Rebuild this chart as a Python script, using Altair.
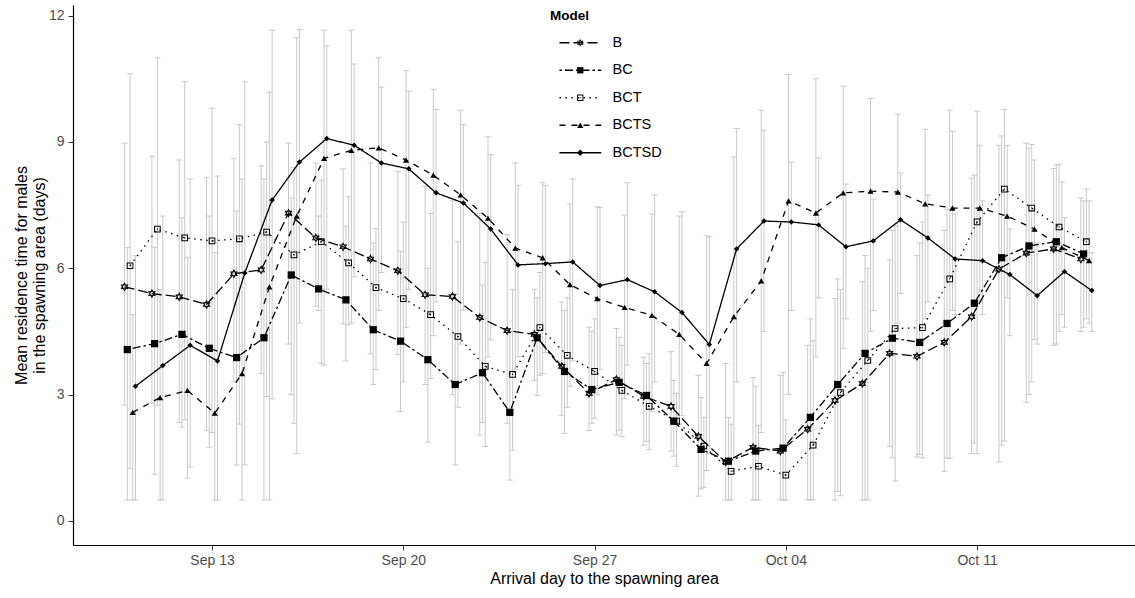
import altair as alt
import pandas as pd

models = ["B", "BC", "BCT", "BCTS", "BCTSD"]
# arrival day index: 0 = Sep 10 ... 35 = Oct 15
days = list(range(36))
tick_days = [3, 10, 17, 24, 31]
tick_labels = ["Sep 13", "Sep 20", "Sep 27", "Oct 04", "Oct 11"]

b_mean = [5.56, 5.40, 5.32, 5.14, 5.87, 5.96, 7.31, 6.72, 6.51, 6.22, 5.94, 5.37, 5.33, 4.83, 4.52, 4.43, 3.67, 3.03,
          3.36, 2.96, 2.72, 2.01, 1.40, 1.75, 1.66, 2.18, 2.86, 3.26, 3.98, 3.91, 4.24, 4.85, 5.98, 6.36, 6.46, 6.22]
b_lo = [2.75, 2.80, 2.34, 2.15, 3.30, 3.50, 4.20, 5.10, 4.68, 3.97, 3.95, 3.24, 3.00, 2.04, 2.32, 3.34, 2.51, 2.15,
        2.04, 1.80, 1.66, 0.59, 0.50, 0.50, 0.50, 0.50, 0.50, 0.50, 1.77, 1.52, 1.18, 1.60, 1.40, 2.82, 4.17, 4.50]
b_hi = [8.97, 8.66, 8.57, 8.15, 8.60, 8.43, 8.97, 8.50, 8.36, 8.50, 8.30, 7.95, 7.60, 7.30, 6.80, 5.50, 5.20, 4.60,
        4.57, 3.88, 4.02, 3.46, 3.74, 3.41, 3.46, 4.17, 5.28, 5.68, 6.20, 6.30, 6.90, 8.14, 8.92, 8.97, 8.37, 7.67]

bc_mean = [4.07, 4.21, 4.43, 4.10, 3.88, 4.35, 5.84, 5.51, 5.25, 4.54, 4.27, 3.83, 3.24, 3.52, 2.58, 4.35, 3.55, 3.12,
           3.29, 2.98, 2.37, 1.70, 1.42, 1.66, 1.73, 2.46, 3.24, 3.98, 4.34, 4.24, 4.69, 5.17, 6.25, 6.53, 6.63, 6.34]
bc_lo = [0.50, 1.11, 2.23, 1.75, 1.33, 0.50, 3.00, 5.00, 3.80, 3.24, 2.60, 1.87, 1.33, 2.34, 0.97, 2.98, 2.08, 2.32,
         2.15, 1.89, 1.54, 0.76, 0.50, 0.50, 0.50, 0.50, 0.70, 0.50, 1.50, 1.58, 1.49, 1.85, 1.80, 3.00, 4.20, 4.60]
bc_hi = [6.49, 6.50, 7.20, 7.24, 7.36, 8.12, 7.67, 7.24, 7.00, 6.60, 6.40, 6.00, 5.40, 5.60, 4.50, 5.30, 5.00, 4.50,
         4.36, 3.74, 3.34, 2.93, 2.46, 3.20, 3.53, 4.80, 5.75, 6.30, 6.90, 6.60, 7.40, 8.21, 9.14, 8.85, 8.45, 7.60]

bct_mean = [6.06, 6.93, 6.72, 6.65, 6.70, 6.86, 6.32, 6.63, 6.13, 5.54, 5.28, 4.90, 4.38, 3.67, 3.48, 4.59, 3.93, 3.55,
            3.10, 2.72, 2.37, 1.78, 1.18, 1.30, 1.09, 1.80, 3.05, 3.81, 4.57, 4.59, 5.75, 7.10, 7.88, 7.43, 6.98, 6.63]
bct_lo = [1.25, 2.75, 2.40, 2.10, 2.30, 2.95, 2.32, 3.74, 4.66, 3.60, 3.30, 3.38, 2.70, 1.77, 1.68, 3.46, 2.70, 2.44,
          2.00, 1.70, 1.30, 0.80, 0.50, 0.50, 0.50, 0.50, 0.60, 0.50, 0.95, 1.50, 1.49, 1.60, 1.90, 3.30, 4.50, 4.80]
bct_hi = [10.62, 11.00, 10.43, 9.80, 9.41, 9.00, 8.40, 8.09, 7.70, 6.94, 7.10, 7.30, 6.63, 6.14, 5.50, 5.90, 5.30, 4.80,
          4.17, 3.97, 3.03, 2.46, 2.30, 2.27, 2.40, 4.28, 5.50, 6.00, 7.00, 7.10, 9.75, 9.73, 9.77, 8.94, 8.47, 7.88]

bcts_mean = [2.58, 2.93, 3.10, 2.56, 3.50, 5.56, 7.24, 8.61, 8.80, 8.86, 8.57, 8.21, 7.74, 7.19, 6.48, 6.25, 5.61, 5.28,
             5.07, 4.88, 4.43, 3.74, 4.85, 5.70, 7.60, 7.31, 7.79, 7.83, 7.81, 7.53, 7.43, 7.43, 7.24, 6.93, 6.49, 6.18]
bcts_lo = [0.50, 0.50, 1.02, 0.50, 0.50, 0.50, 1.60, 3.70, 4.70, 5.00, 4.60, 4.40, 4.20, 3.90, 3.60, 3.50, 3.20, 3.00,
           2.90, 2.60, 2.30, 1.20, 1.50, 2.10, 3.00, 3.90, 4.10, 4.50, 4.70, 4.80, 5.00, 5.20, 5.30, 4.31, 4.90, 4.70]
bcts_hi = [4.90, 5.50, 6.26, 6.37, 8.12, 10.18, 11.48, 11.65, 11.65, 11.00, 10.69, 10.25, 9.75, 9.12, 8.50, 8.03, 7.53,
           7.46, 7.26, 7.29, 7.24, 6.77, 8.64, 9.75, 10.60, 10.50, 10.32, 10.03, 9.66, 9.30, 9.25, 8.92, 8.92, 8.57,
           8.05, 7.60]

bctsd_mean = [3.20, 3.69, 4.17, 3.80, 5.89, 7.62, 8.52, 9.08, 8.92, 8.50, 8.36, 7.79, 7.55, 6.93, 6.08, 6.11, 6.15, 5.59,
              5.73, 5.44, 4.95, 4.19, 6.46, 7.12, 7.10, 7.03, 6.51, 6.65, 7.15, 6.72, 6.22, 6.18, 5.85, 5.35, 5.92, 5.47]
bctsd_lo = [0.50, 0.50, 1.28, 0.50, 1.33, 2.90, 4.70, 5.50, 5.80, 5.90, 5.50, 5.20, 5.00, 4.30, 3.90, 4.00, 3.80, 3.60,
            3.70, 3.30, 2.50, 1.60, 3.30, 4.50, 5.00, 5.30, 4.80, 5.00, 5.40, 5.20, 4.90, 4.90, 4.40, 4.20, 4.60, 4.50]
bctsd_hi = [6.30, 7.24, 8.12, 8.19, 10.43, 11.65, 11.67, 11.28, 10.85, 10.30, 10.20, 9.77, 9.41, 8.70, 7.97, 7.97, 8.12,
            7.44, 8.03, 7.74, 7.34, 6.75, 9.32, 9.28, 8.52, 8.62, 8.00, 7.64, 8.26, 7.74, 7.29, 7.60, 6.93, 6.60, 7.20,
            6.37]

series = {
    "B": (b_mean, b_lo, b_hi),
    "BC": (bc_mean, bc_lo, bc_hi),
    "BCT": (bct_mean, bct_lo, bct_hi),
    "BCTS": (bcts_mean, bcts_lo, bcts_hi),
    "BCTSD": (bctsd_mean, bctsd_lo, bctsd_hi),
}

# position_dodge(width = 0.5) equivalent
dodge = {m: (i - 2) * 0.1 for i, m in enumerate(models)}

rows = []
for m in models:
    mean, lo, hi = series[m]
    for d, v, l, h in zip(days, mean, lo, hi):
        rows.append({"Model": m, "Model2": m, "x": d + dodge[m], "mean": v, "lo": l, "hi": h})
df = pd.DataFrame(rows)

FONT = "Liberation Sans"
label_expr = "[" + ",".join("'%s'" % t for t in tick_labels) + "][(datum.value - 3) / 7]"

xenc = alt.X("x:Q", scale=alt.Scale(domain=[-2.088, 36.78], nice=False, zero=False),
             axis=alt.Axis(values=tick_days, labelExpr=label_expr, title="Arrival day to the spawning area",
                           grid=False))
yscale = alt.Scale(domain=[-0.57, 12.25], nice=False, zero=False)
yaxis = alt.Axis(values=[0, 3, 6, 9, 12], grid=False,
                 title=["Mean residence time for males", "in the spawning area (days)"])

grey = "#c9c9c9"
base = alt.Chart(df)

bars = base.mark_rule(color=grey, strokeWidth=1).encode(
    x=xenc, y=alt.Y("lo:Q", scale=yscale, axis=yaxis), y2="hi:Q")
cap_lo = base.mark_tick(color=grey, orient="horizontal", size=6, thickness=1, opacity=1).encode(
    x="x:Q", y="lo:Q")
cap_hi = base.mark_tick(color=grey, orient="horizontal", size=6, thickness=1, opacity=1).encode(
    x="x:Q", y="hi:Q")

dashes = [[10, 4], [2.5, 3, 8, 3], [1.5, 4.5], [6, 6], [1, 0]]
leg_common = dict(orient="none", legendY=4, titleFontSize=13.5,
                  titleFontWeight="bold", titleFont=FONT, titlePadding=13, labelFont=FONT, labelFontSize=14.5,
                  rowPadding=12.5, symbolSize=40, padding=0)

lines = base.mark_line(color="black", strokeWidth=1.3).encode(
    x="x:Q", y="mean:Q",
    strokeDash=alt.StrokeDash("Model:N", scale=alt.Scale(domain=models, range=dashes),
                              legend=alt.Legend(title="Model", symbolType="M0.7,0L13.9,0", symbolStrokeWidth=1.3,
                                                symbolStrokeColor="black", labelColor="black",
                                                titleColor="black", legendX=477, labelOffset=48,
                                                **leg_common)))

# filled outlines (ring paths) so open symbols stay open in plot and legend alike
star_open = ("M0,-1.2L1.04,0.6L-1.04,0.6Z M0,-0.75L-0.65,0.375L0.65,0.375Z "
             "M0,1.2L-1.04,-0.6L1.04,-0.6Z M0,0.75L0.65,-0.375L-0.65,-0.375Z")
square_open = ("M-1,-1L1,-1L1,1L-1,1Z M-0.7,-0.7L-0.7,0.7L0.7,0.7L0.7,-0.7Z "
               "M-0.17,-0.17L0.17,-0.17L0.17,0.17L-0.17,0.17Z")
shapes = [star_open, "square", square_open, "triangle-up", "diamond"]
leg2 = alt.Legend(title=" ", symbolFillColor="black", symbolStrokeWidth=0, labelExpr="' '",
                  legendX=500, labelOffset=33, **leg_common)

points = base.mark_point(opacity=1, filled=True, color="black", strokeWidth=0).encode(
    x="x:Q", y="mean:Q",
    shape=alt.Shape("Model2:N", scale=alt.Scale(domain=models, range=shapes), legend=leg2),
    size=alt.Size("Model2:N", scale=alt.Scale(domain=models, range=[60, 30, 50, 42, 24]), legend=None))

chart = alt.layer(bars, cap_lo, cap_hi, lines, points).resolve_scale(
    strokeDash="independent", shape="independent").properties(
    width=1062, height=540,
    autosize=alt.AutoSizeParams(type="none"),
    padding={"left": 73, "top": 5, "right": 0, "bottom": 53},
    background="white",
).configure_view(stroke=None).configure_axis(
    domainColor="black", domainWidth=1.2, tickColor="#333333", tickSize=5, tickWidth=1,
    labelColor="#4d4d4d", labelFont=FONT, labelFontSize=14, titleFont=FONT, titleFontSize=16,
    titleColor="black", titleFontWeight="normal",
).configure_axisX(labelPadding=3, titlePadding=3).configure_axisY(labelPadding=4, titlePadding=1)

chart.save("out.html", embed_options={"renderer": "svg", "actions": False})
